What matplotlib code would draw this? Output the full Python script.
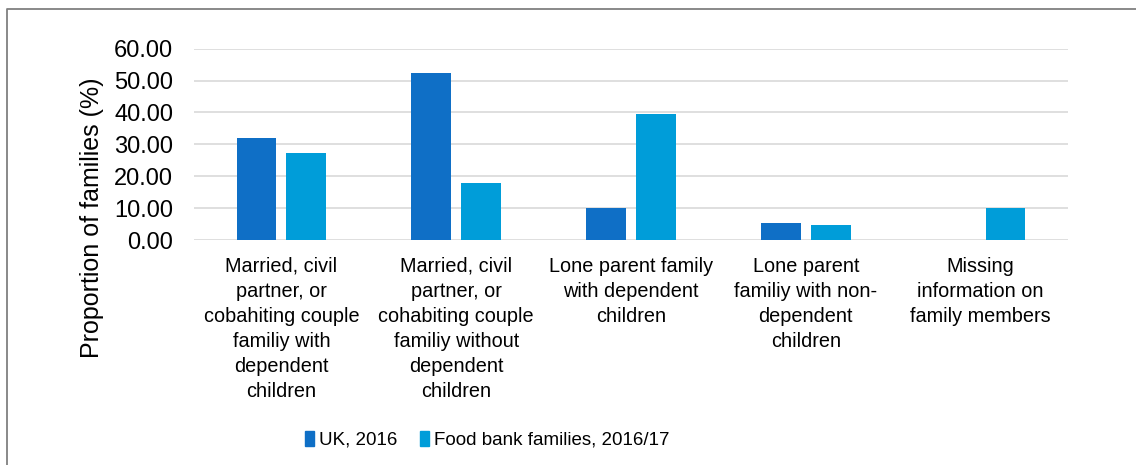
import matplotlib
matplotlib.use("Agg")
import matplotlib.pyplot as plt
from matplotlib.patches import Rectangle
from matplotlib.lines import Line2D
import numpy as np

plt.rcParams['font.family'] = ['Liberation Sans', 'DejaVu Sans']

# family types and share of families in each (%)
categories = [
    "Married, civil\npartner, or\ncobahiting couple\nfamiliy with\ndependent\nchildren",
    "Married, civil\npartner, or\ncohabiting couple\nfamiliy without\ndependent\nchildren",
    "Lone parent family\nwith dependent\nchildren",
    "Lone parent\nfamiliy with non-\ndependent\nchildren",
    "Missing\ninformation on\nfamily members",
]
uk_2016 = [32.1, 52.3, 9.9, 5.3, 0.0]
food_bank = [27.2, 17.9, 39.4, 4.6, 10.1]
series_names = ["UK, 2016", "Food bank families, 2016/17"]
colors = ["#0F6FC6", "#009DD9"]
yticks = [0, 10, 20, 30, 40, 50, 60]

W, H = 1136, 465
fig = plt.figure(figsize=(W / 100, H / 100), dpi=100)
ax = fig.add_axes([194 / W, 1 - 240 / H, (1068 - 194) / W, (240 - 48.7) / H])

x = np.arange(len(categories))
bw = 0.227
off = 0.1425
ax.bar(x - off, uk_2016, bw, color=colors[0], zorder=3, label=series_names[0])
ax.bar(x + off, food_bank, bw, color=colors[1], zorder=3, label=series_names[1])

ax.set_xlim(-0.5, len(categories) - 0.5)
ax.set_ylim(0, 60)
ax.set_yticks(yticks)
ax.set_yticklabels([f"{v:.2f}" for v in yticks], fontsize=17)
ax.set_xticks(x)
ax.set_xticklabels(categories, fontsize=14.3, linespacing=1.4)
ax.tick_params(axis='y', length=0, pad=15)
ax.tick_params(axis='x', length=0, pad=12)
ax.grid(axis='y', color='#D9D9D9', linewidth=1.2, zorder=0)
for s in ax.spines.values():
    s.set_visible(False)

fig.text(92 / W, 1 - 218 / H, "Proportion of families (%)", rotation=90,
         ha='center', va='center', fontsize=18)

handles = [Rectangle((0, 0), 1, 1, color=c) for c in colors]
fig.legend(handles, series_names, loc='center left',
           bbox_to_anchor=(305 / W, 1 - 440 / H), ncol=2, frameon=False,
           fontsize=13.5, handlelength=0.5, handleheight=0.8,
           handletextpad=0.25, columnspacing=1.2, borderaxespad=0, borderpad=0)

# outer frame (top and left edges)
fig.add_artist(Line2D([7 / W, 7 / W, 1], [0, 1 - 9 / H, 1 - 9 / H],
                      color='#808080', linewidth=1.3))

fig.savefig("out.png", dpi=100)
